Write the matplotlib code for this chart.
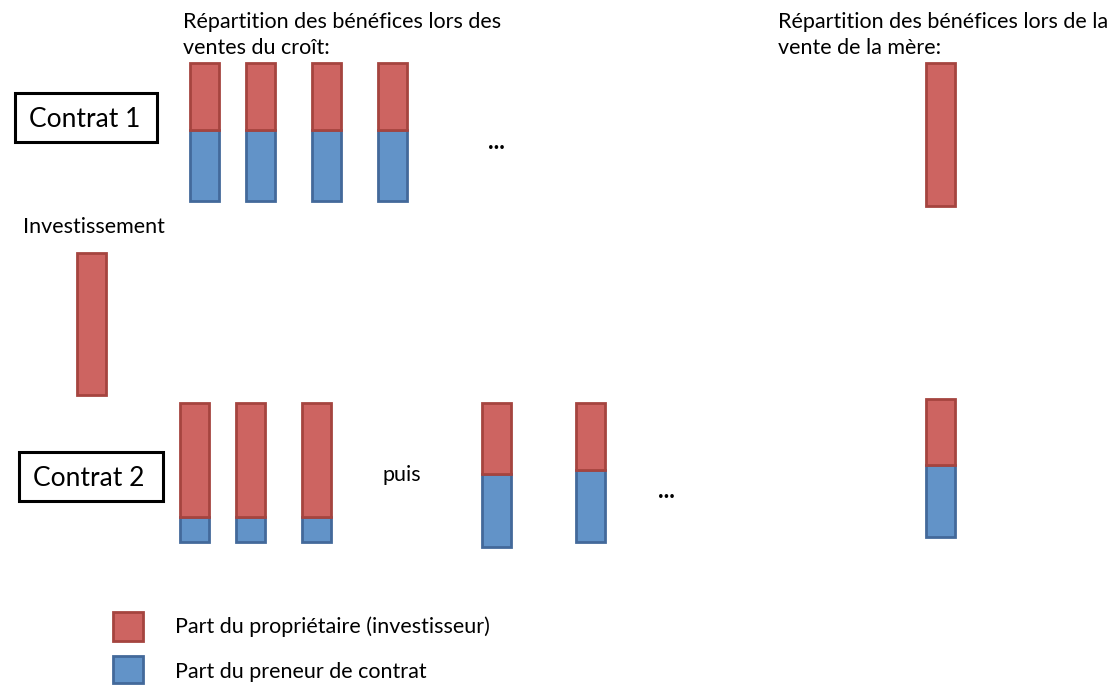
import matplotlib.pyplot as plt
from matplotlib.patches import Rectangle

# positions en pixels (y compte depuis le bas de l'image, 685 px de haut)
c1_left = [190, 246, 312, 378]
c1_base = [484, 484, 484, 484]
c1_blue = [71, 71, 71, 71]
c1_red = [67, 67, 67, 67]

mere1_left = [926]
mere1_base = [479]
mere1_blue = [0]
mere1_red = [143]

inv_left = [77]
inv_base = [290]
inv_red = [142]

c2_left = [180, 236, 302, 482, 576]
c2_base = [143, 143, 143, 138, 143]
c2_blue = [25, 25, 25, 73, 72]
c2_red = [114, 114, 114, 71, 67]

mere2_left = [926]
mere2_base = [148]
mere2_blue = [72]
mere2_red = [66]

red_fc = '#CD6461'
red_ec = '#A5443F'
blue_fc = '#6293C8'
blue_ec = '#43699A'
W = 29
LW = 2.0

plt.rcParams['font.family'] = ['Lato', 'DejaVu Sans']

fig = plt.figure(figsize=(11.15, 6.85), dpi=100)
ax = fig.add_axes([0, 0, 1, 1])
ax.set_xlim(0, 1115)
ax.set_ylim(0, 685)
ax.axis('off')


def stack(left, base, blue, red):
    for x, b, hb, hr in zip(left, base, blue, red):
        if hb > 0:
            ax.bar(x, hb, bottom=b, width=W, align='edge', color=blue_fc,
                   edgecolor=blue_ec, linewidth=LW)
        ax.bar(x, hr, bottom=b + hb, width=W, align='edge', color=red_fc,
               edgecolor=red_ec, linewidth=LW)


stack(c1_left, c1_base, c1_blue, c1_red)
stack(mere1_left, mere1_base, mere1_blue, mere1_red)
stack(inv_left, inv_base, [0], inv_red)
stack(c2_left, c2_base, c2_blue, c2_red)
stack(mere2_left, mere2_base, mere2_blue, mere2_red)

fs = 15.5
ax.text(183, 663, "Répartition des bénéfices lors des", fontsize=fs, va='center')
ax.text(183, 637, "ventes du croît:", fontsize=fs, va='center')
ax.text(778, 663, "Répartition des bénéfices lors de la", fontsize=fs, va='center')
ax.text(778, 637, "vente de la mère:", fontsize=fs, va='center')
ax.text(23, 458, "Investissement", fontsize=fs, va='center')
ax.text(496, 544, "...", fontsize=17, ha='center', va='center', fontweight='bold')
ax.text(666, 194, "...", fontsize=17, ha='center', va='center', fontweight='bold')
ax.text(382, 210, "puis", fontsize=fs, va='center')

# boites Contrat
ax.add_patch(Rectangle((15, 543), 142, 49, fill=False, edgecolor='black', linewidth=2.2))
ax.text(85, 566, "Contrat 1", fontsize=19, ha='center', va='center')
ax.add_patch(Rectangle((19, 184), 144, 49, fill=False, edgecolor='black', linewidth=2.2))
ax.text(89, 206, "Contrat 2", fontsize=19, ha='center', va='center')

# legende
ax.add_patch(Rectangle((113, 44), 30, 29, facecolor=red_fc, edgecolor=red_ec, linewidth=LW))
ax.text(175, 58, "Part du propriétaire (investisseur)", fontsize=fs, va='center')
ax.add_patch(Rectangle((113, 2), 30, 27, facecolor=blue_fc, edgecolor=blue_ec, linewidth=LW))
ax.text(175, 13, "Part du preneur de contrat", fontsize=fs, va='center')

plt.savefig("out.png", dpi=100)
